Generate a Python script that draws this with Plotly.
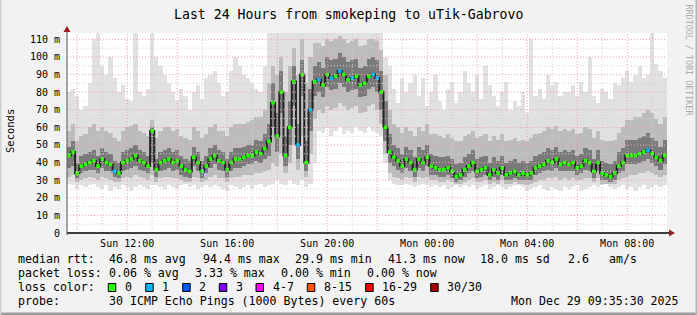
import plotly.graph_objects as go
from datetime import datetime, timedelta

# ---------------- data (10-minute steps, Sun 09:40 .. Mon 09:30) ----------------
START = datetime(2025, 12, 28, 9, 40)
STEP_MIN = 10

median_ms = [
    44, 46, 34, 38, 39, 40, 41, 38, 42, 40, 39, 35,
    34, 40, 41, 42, 44, 41, 40, 38, 58, 36, 40, 41,
    42, 40, 41, 38, 36, 35, 43, 40, 35, 38, 42, 44,
    41, 40, 36, 40, 42, 42, 43, 44, 44, 46, 45, 48,
    52, 74, 55, 80, 44, 60, 86, 50, 90, 40, 70, 86,
    87, 84, 90, 88, 89, 92, 90, 87, 88, 89, 84, 85,
    89, 90, 88, 80, 60, 46, 43, 41, 38, 42, 40, 36,
    42, 40, 43, 38, 37, 36, 36, 37, 35, 32, 33, 36,
    38, 40, 35, 36, 37, 33, 36, 34, 37, 33, 34, 35,
    33, 34, 33, 34, 37, 38, 39, 41, 40, 42, 39, 40,
    39, 40, 37, 38, 41, 40, 35, 40, 34, 33, 32, 34,
    38, 40, 44, 44, 44, 45, 46, 47, 45, 43, 41, 44,
]

# number of lost pings per step (0 = green, 1 = light blue)
loss_count = [0] * 144
for _i in [11, 55, 58, 60, 63, 65, 68, 73, 74, 139]:
    loss_count[_i] = 1

smoke_min = [
    28, 27, 25, 27, 26, 27, 28, 26, 25, 27, 24, 26,
    25, 27, 26, 24, 26, 27, 26, 25, 27, 27, 26, 25,
    27, 26, 25, 27, 28, 26, 27, 25, 26, 27, 26, 27,
    26, 25, 24, 27, 26, 25, 26, 27, 25, 27, 28, 26,
    27, 28, 30, 28, 27, 30, 28, 27, 30, 26, 28, 40,
    58, 57, 60, 55, 58, 60, 56, 58, 57, 60, 58, 57,
    60, 58, 57, 55, 40, 30, 28, 27, 27, 28, 27, 26,
    27, 28, 27, 26, 27, 26, 27, 25, 26, 27, 26, 27,
    26, 27, 25, 26, 27, 25, 26, 27, 26, 25, 26, 27,
    27, 26, 24, 25, 26, 27, 25, 24, 26, 25, 24, 26,
    25, 26, 27, 24, 25, 26, 27, 26, 27, 28, 26, 25,
    26, 27, 25, 26, 24, 26, 27, 25, 26, 27, 26, 27,
]

smoke_max = [
    80, 82, 78, 70, 72, 85, 110, 114, 95, 90, 100, 88,
    80, 84, 76, 75, 114, 80, 78, 82, 114, 100, 95, 90,
    85, 80, 75, 82, 78, 70, 80, 84, 76, 88, 90, 92,
    85, 78, 80, 92, 100, 95, 90, 88, 85, 82, 80, 95,
    114, 114, 114, 114, 114, 114, 114, 114, 114, 114, 114, 114,
    114, 114, 114, 114, 114, 114, 114, 114, 114, 114, 114, 114,
    114, 114, 114, 114, 100, 95, 82, 74, 88, 80, 85, 90,
    78, 88, 72, 80, 90, 75, 70, 82, 86, 74, 80, 92,
    85, 80, 90, 76, 95, 84, 78, 72, 80, 86, 70, 75,
    72, 80, 68, 110, 78, 82, 76, 90, 84, 86, 78, 80,
    80, 84, 78, 86, 80, 100, 78, 74, 82, 80, 76, 85,
    84, 88, 92, 86, 90, 95, 88, 90, 114, 96, 92, 88,
]

smoke_mid_lo = [
    32, 33, 29, 30, 31, 32, 31, 30, 32, 31, 30, 29,
    29, 31, 32, 31, 33, 32, 31, 30, 33, 29, 31, 32,
    32, 31, 31, 30, 29, 29, 32, 31, 29, 30, 32, 33,
    31, 31, 29, 31, 32, 32, 33, 33, 33, 34, 34, 35,
    36, 40, 38, 45, 34, 40, 50, 36, 55, 32, 45, 65,
    70, 68, 72, 70, 71, 74, 72, 70, 71, 72, 68, 69,
    72, 73, 70, 62, 45, 34, 32, 31, 30, 32, 31, 29,
    32, 31, 32, 30, 30, 29, 29, 30, 29, 28, 28, 29,
    30, 31, 29, 29, 30, 28, 29, 28, 30, 28, 28, 29,
    28, 28, 27, 28, 29, 30, 30, 31, 31, 32, 30, 31,
    30, 31, 30, 30, 31, 31, 29, 31, 28, 28, 28, 28,
    30, 31, 32, 33, 33, 34, 34, 35, 34, 33, 32, 33,
]

smoke_mid_hi = [
    58, 62, 52, 55, 56, 60, 62, 58, 60, 58, 57, 54,
    52, 58, 60, 61, 62, 58, 57, 55, 64, 54, 58, 60,
    60, 58, 59, 55, 54, 53, 60, 58, 54, 56, 60, 62,
    58, 58, 55, 60, 62, 62, 62, 63, 64, 66, 66, 70,
    85, 95, 90, 100, 80, 95, 105, 90, 110, 85, 100, 108,
    108, 106, 110, 109, 110, 112, 110, 108, 109, 110, 106, 107,
    110, 110, 109, 104, 90, 70, 62, 60, 57, 60, 58, 55,
    60, 58, 62, 56, 56, 55, 54, 56, 54, 52, 52, 55,
    56, 58, 54, 55, 56, 52, 55, 53, 56, 52, 53, 54,
    52, 53, 52, 54, 56, 57, 58, 60, 59, 61, 58, 59,
    58, 59, 56, 57, 60, 59, 54, 58, 53, 52, 52, 53,
    57, 60, 64, 64, 66, 66, 68, 70, 68, 65, 62, 66,
]

smoke_core_lo = [
    37, 38, 31, 34, 35, 36, 36, 34, 37, 35, 35, 32,
    31, 35, 36, 37, 38, 36, 35, 34, 40, 32, 35, 36,
    37, 35, 36, 33, 32, 31, 38, 35, 31, 34, 37, 39,
    36, 35, 32, 35, 37, 37, 38, 39, 39, 41, 40, 42,
    44, 60, 46, 68, 38, 50, 72, 42, 78, 35, 58, 78,
    80, 77, 83, 81, 82, 85, 83, 80, 81, 82, 77, 78,
    82, 83, 80, 70, 52, 40, 38, 36, 34, 37, 35, 32,
    37, 35, 38, 33, 33, 32, 32, 33, 31, 29, 30, 32,
    34, 35, 31, 32, 33, 30, 32, 30, 33, 30, 30, 31,
    30, 30, 30, 30, 33, 34, 35, 36, 35, 37, 35, 35,
    35, 35, 33, 34, 36, 35, 31, 35, 30, 30, 29, 30,
    34, 35, 39, 39, 39, 40, 41, 42, 40, 38, 36, 39,
]

smoke_core_hi = [
    49, 52, 40, 44, 45, 46, 47, 44, 48, 46, 45, 41,
    40, 46, 47, 48, 50, 47, 46, 44, 60, 42, 46, 47,
    48, 46, 47, 44, 42, 41, 49, 46, 41, 44, 48, 50,
    47, 46, 42, 46, 48, 48, 49, 50, 50, 53, 52, 56,
    62, 85, 68, 92, 55, 75, 95, 62, 98, 52, 82, 95,
    97, 94, 100, 98, 99, 102, 100, 97, 98, 99, 94, 95,
    99, 100, 98, 92, 75, 56, 50, 48, 45, 49, 47, 43,
    49, 47, 50, 45, 44, 43, 43, 44, 42, 39, 40, 43,
    45, 47, 42, 43, 44, 40, 43, 41, 44, 40, 41, 42,
    40, 41, 40, 41, 44, 45, 46, 48, 47, 49, 46, 47,
    46, 47, 44, 45, 48, 47, 42, 47, 41, 40, 39, 41,
    46, 48, 53, 53, 53, 54, 55, 57, 54, 52, 49, 53,
]

y_tick_values = [0, 10, 20, 30, 40, 50, 60, 70, 80, 90, 100, 110]
y_tick_labels = ["0", "10 m", "20 m", "30 m", "40 m", "50 m", "60 m",
                 "70 m", "80 m", "90 m", "100 m", "110 m"]
x_tick_values = ["2025-12-28 12:00", "2025-12-28 16:00", "2025-12-28 20:00",
                 "2025-12-29 00:00", "2025-12-29 04:00", "2025-12-29 08:00"]
x_tick_labels = ["Sun 12:00", "Sun 16:00", "Sun 20:00",
                 "Mon 00:00", "Mon 04:00", "Mon 08:00"]

loss_legend_labels = ["0", "1", "2", "3", "4-7", "8-15", "16-29", "30/30"]
loss_legend_colors = ["#26ff00", "#00b8ff", "#0059ff", "#7e00ff",
                      "#ff00ff", "#ff5500", "#ff0000", "#a10000"]

stats_rtt = ["46.8 ms avg", "94.4 ms max", "29.9 ms min", "41.3 ms now",
             "18.0 ms sd", "2.6", "am/s"]
stats_loss = ["0.06 % avg", "3.33 % max", "0.00 % min", "0.00 % now"]

# ---------------- figure ----------------
W, H = 697, 315
L, R, T, B = 67, 30, 33, 82
PW, PH = W - L - R, H - T - B
FONT = "DejaVu Sans Mono"

def pxx(x):
    return (x - L) / PW

def pxy(y):
    return (H - B - y) / PH

times = [START + timedelta(minutes=STEP_MIN * i) for i in range(len(median_ms))]
bar_w = STEP_MIN * 60 * 1000

fig = go.Figure()

def band(lo, hi, color):
    fig.add_trace(go.Bar(
        x=times, base=lo, y=[h - l for l, h in zip(lo, hi)],
        width=bar_w, marker=dict(color=color, line=dict(width=0)),
        hoverinfo="skip", showlegend=False))

band(smoke_min, smoke_max, "#e1e1e1")
band(smoke_mid_lo, smoke_mid_hi, "#bcbcbc")
band(smoke_core_lo, smoke_core_hi, "#7a7a7a")

fig.add_trace(go.Scatter(
    x=times, y=median_ms, mode="lines", line=dict(color="#222222", width=2, shape="hvh"),
    hoverinfo="skip", showlegend=False))

fig.add_trace(go.Scatter(
    x=times, y=median_ms, mode="markers",
    marker=dict(symbol="square", size=3.6,
                color=[loss_legend_colors[min(c, 1)] for c in loss_count],
                line=dict(width=0)),
    showlegend=False))

shapes = []
# horizontal grid
for v in range(5, 114, 5):
    major = v % 10 == 0
    shapes.append(dict(type="line", xref="paper", yref="y", x0=0, x1=1, y0=v, y1=v,
                       line=dict(color="#e8a4a4" if major else "#cfcfcf", width=1,
                                 dash="1px,2px"), layer="above"))
# vertical grid (every hour)
for h in range(1, 25):
    t = datetime(2025, 12, 28, 9, 0) + timedelta(hours=h)
    major = t.hour % 2 == 0
    shapes.append(dict(type="line", xref="x", yref="paper", x0=t, x1=t, y0=0, y1=1,
                       line=dict(color="#e8a4a4" if major else "#cfcfcf", width=1,
                                 dash="1px,2px"), layer="above"))
# axes
shapes.append(dict(type="line", xref="paper", yref="paper", x0=pxx(67), x1=pxx(670),
                   y0=pxy(233), y1=pxy(233), line=dict(color="#000000", width=1.5), layer="above"))
shapes.append(dict(type="line", xref="paper", yref="paper", x0=pxx(67), x1=pxx(67),
                   y0=pxy(235), y1=pxy(30), line=dict(color="#555555", width=1), layer="above"))
# arrows
shapes.append(dict(type="path", xref="paper", yref="paper",
                   path=f"M {pxx(669)} {pxy(229.5)} L {pxx(675)} {pxy(233)} L {pxx(669)} {pxy(236.5)} Z",
                   fillcolor="#9b1c1c", line=dict(width=0), layer="above"))
shapes.append(dict(type="path", xref="paper", yref="paper",
                   path=f"M {pxx(63.5)} {pxy(32)} L {pxx(67)} {pxy(26)} L {pxx(70.5)} {pxy(32)} Z",
                   fillcolor="#9b1c1c", line=dict(width=0), layer="above"))
# frame edges
shapes.append(dict(type="rect", xref="paper", yref="paper", x0=pxx(0), x1=pxx(697),
                   y0=pxy(315), y1=pxy(312.5), fillcolor="#9c9c9c", line=dict(width=0)))
shapes.append(dict(type="rect", xref="paper", yref="paper", x0=pxx(695.5), x1=pxx(697),
                   y0=pxy(315), y1=pxy(0), fillcolor="#b4b4b4", line=dict(width=0)))
shapes.append(dict(type="rect", xref="paper", yref="paper", x0=pxx(0), x1=pxx(1.5),
                   y0=pxy(315), y1=pxy(0), fillcolor="#d0d0d0", line=dict(width=0)))

annotations = []

def text(x, y, s, size=11.6, anchor="left", color="#000000", angle=0):
    annotations.append(dict(xref="paper", yref="paper", x=pxx(x), y=pxy(y), text=s,
                            showarrow=False, xanchor=anchor, yanchor="middle",
                            textangle=angle,
                            font=dict(family=FONT, size=size, color=color)))

text(348, 14, "Last 24 Hours from smokeping to uTik-Gabrovo", size=13.2, anchor="center")
text(10, 131, "Seconds", size=10.5, anchor="center", angle=-90)
text(688.5, 60, "RRDTOOL / TOBI OETIKER", size=8.4, anchor="center", color="#aaaaaa", angle=90)

# legend rows
text(16, 259, "median rtt:")
for xpos, s in zip([107.3, 200.7, 293.3, 386, 478.3, 566, 607.3], stats_rtt):
    text(xpos, 259, s)
text(16, 273, "packet loss:")
for xpos, s in zip([107.3, 193.3, 279, 365], stats_loss):
    text(xpos, 273, s)
text(16, 287, "loss color:")
box_x = [108.3, 145.7, 182.7, 219.3, 256, 307.3, 365.7, 430.7]
for bx, lab, col in zip(box_x, loss_legend_labels, loss_legend_colors):
    shapes.append(dict(type="rect", xref="paper", yref="paper",
                       x0=pxx(bx), x1=pxx(bx + 7.5), y0=pxy(283.5), y1=pxy(291.5),
                       fillcolor=col, line=dict(color="#000000", width=1)))
    text(bx + 14.5, 287, lab)
text(16, 301, "probe:")
text(107.3, 301, "30 ICMP Echo Pings (1000 Bytes) every 60s")
text(680.5, 301, "Mon Dec 29 09:35:30 2025", anchor="right")

fig.update_layout(
    width=W, height=H,
    margin=dict(l=L, r=R, t=T, b=B, pad=0),
    paper_bgcolor="#f2f2f2", plot_bgcolor="#ffffff",
    barmode="overlay", bargap=0,
    showlegend=False,
    shapes=shapes, annotations=annotations,
    xaxis=dict(type="date", range=["2025-12-28 09:35:30", "2025-12-29 09:35:30"],
               tickvals=x_tick_values, ticktext=x_tick_labels, showgrid=False,
               zeroline=False, showline=False, ticks="", ticklabelstandoff=3,
               tickfont=dict(family=FONT, size=10, color="#000000"), fixedrange=True),
    yaxis=dict(range=[0, 113.6], tickvals=y_tick_values, ticktext=y_tick_labels,
               showgrid=False, zeroline=False, showline=False, ticks="",
               ticklabelstandoff=6,
               tickfont=dict(family=FONT, size=10, color="#000000"), fixedrange=True),
)

fig.write_html("out.html")
